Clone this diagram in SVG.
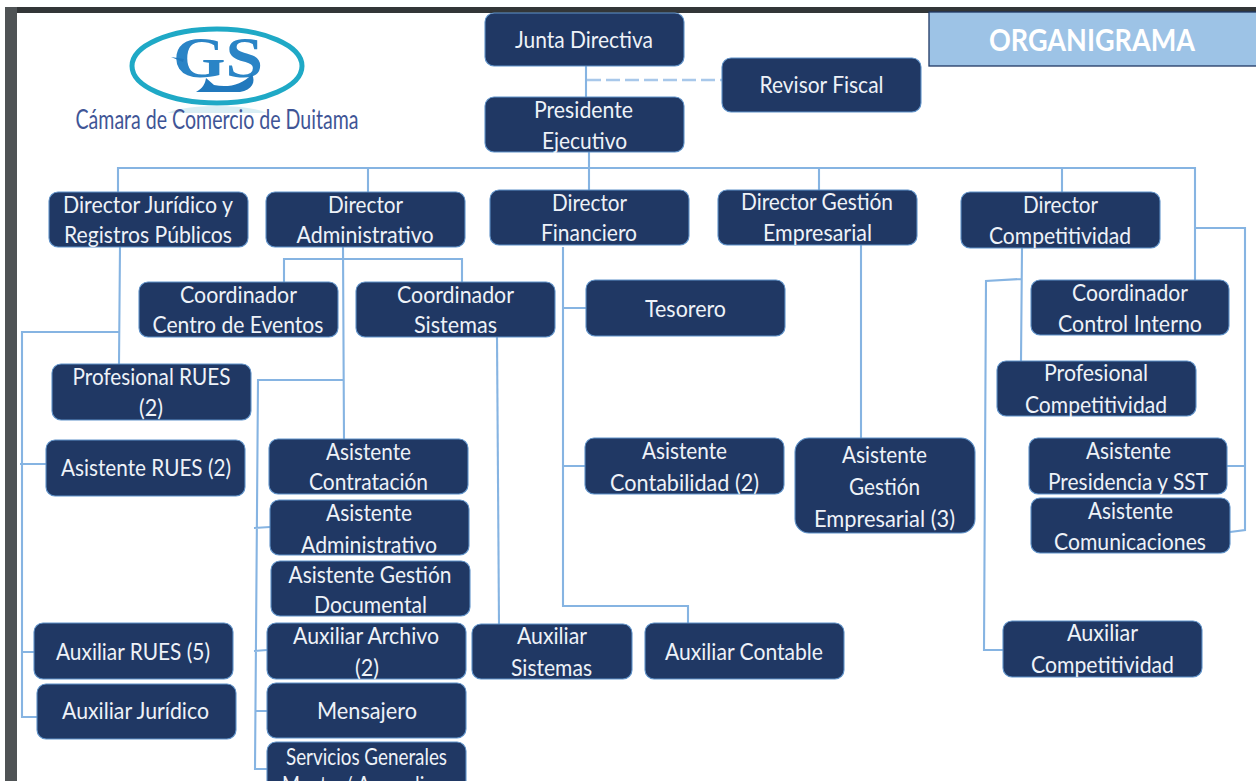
<svg xmlns="http://www.w3.org/2000/svg" width="1256" height="781" viewBox="0 0 1256 781">
<style>
.n{fill:#203864;stroke:#5f92c9;stroke-width:1.1}
.t{font-family:"Lato","Open Sans",sans-serif;font-size:23px;fill:#eef2f8;text-anchor:middle}
.c{fill:none;stroke:#86b4e2;stroke-width:2.1}
.d{fill:none;stroke:#a8c8ea;stroke-width:2.5;stroke-dasharray:14 5}
.l{font-family:"Liberation Serif",serif;font-weight:bold;text-anchor:middle}
</style>
<rect width="1256" height="781" fill="#fff"/>
<rect x="5" y="7" width="1251" height="6" fill="#333638"/>
<rect x="5" y="7" width="12" height="774" fill="#4f5355"/>
<g id="logo">
<ellipse cx="217" cy="116" rx="52" ry="10" fill="#d9eef4"/>
<rect x="160" y="113" width="114" height="18" fill="#fff"/>
<ellipse cx="217" cy="66" rx="85" ry="37" fill="#fff" stroke="#1fa9c6" stroke-width="5"/>
<text class="l" x="218" y="77" font-size="56" fill="#2a84c6" textLength="90" lengthAdjust="spacingAndGlyphs">GS</text>
<path d="M171 57L184 59L183 62ZM196 92C203 88 205 84 206 78L214 85C228 88 242 85 252 74C256 82 252 90 240 92Z" fill="#2179bd"/>
<text x="217" y="129" font-family="Lato,sans-serif" font-size="26" fill="#3f5596" text-anchor="middle" textLength="283" lengthAdjust="spacingAndGlyphs">Cámara de Comercio de Duitama</text>
</g>
<g id="header">
<rect x="929" y="12" width="328" height="54" fill="#9dc3e6" stroke="#1f3864" stroke-width="1.3"/>
<text x="1092" y="51" font-family="Lato,'Open Sans',sans-serif" font-weight="bold" font-size="30" fill="#fff" text-anchor="middle" textLength="206" lengthAdjust="spacingAndGlyphs">ORGANIGRAMA</text>
</g>
<g id="connectors">
<path class="c" d="M586 66V97"/>
<path class="d" d="M587 80H722"/>
<path class="c" d="M589 152V190M118 192V168H1195V280M368 168V192M819 168V190M1062 168V192"/>
<path class="c" d="M1195 228H1245V530L1230 532M1227 466H1245"/>
<path class="c" d="M1022 248L1021 361M1021 279L986 281L984 650H1003"/>
<path class="c" d="M120 247L119 364M119 332H22V717H37M20 464H46M22 652H34"/>
<path class="c" d="M343 247L344 439M284 282V259H462V282M344 380H258L255 769H267M254 528L270 527M254 651L267 650M255 711H267"/>
<path class="c" d="M497 337L499 624"/>
<path class="c" d="M563 247V606H688V623M563 308H586M563 466H585"/>
<path class="c" d="M861 245V438"/>
</g>
<g id="junta"><rect class="n" x="485" y="13" width="199" height="53" rx="9"/><text class="t" x="584" y="48" textLength="138" lengthAdjust="spacingAndGlyphs">Junta Directiva</text></g>
<g id="revisor"><rect class="n" x="722" y="58" width="199" height="54" rx="9"/><text class="t" x="821.500" y="93" textLength="124" lengthAdjust="spacingAndGlyphs">Revisor Fiscal</text></g>
<g id="presidente"><rect class="n" x="485" y="97" width="199" height="55" rx="9"/><text class="t" x="583.500" y="118" textLength="99" lengthAdjust="spacingAndGlyphs">Presidente</text><text class="t" x="584.500" y="149" textLength="85" lengthAdjust="spacingAndGlyphs">Ejecutivo</text></g>
<g id="dir-juridico"><rect class="n" x="49" y="192" width="199" height="55" rx="9"/><text class="t" x="148" y="213" textLength="170" lengthAdjust="spacingAndGlyphs">Director Jurídico y</text><text class="t" x="148" y="243" textLength="168" lengthAdjust="spacingAndGlyphs">Registros Públicos</text></g>
<g id="dir-admin"><rect class="n" x="266" y="192" width="199" height="55" rx="9"/><text class="t" x="365.500" y="213" textLength="75" lengthAdjust="spacingAndGlyphs">Director</text><text class="t" x="365" y="243" textLength="137" lengthAdjust="spacingAndGlyphs">Administrativo</text></g>
<g id="dir-fin"><rect class="n" x="490" y="190" width="199" height="55" rx="9"/><text class="t" x="589.500" y="211" textLength="75" lengthAdjust="spacingAndGlyphs">Director</text><text class="t" x="589" y="241" textLength="96" lengthAdjust="spacingAndGlyphs">Financiero</text></g>
<g id="dir-gestion"><rect class="n" x="718" y="190" width="199" height="55" rx="9"/><text class="t" x="817" y="210" textLength="152" lengthAdjust="spacingAndGlyphs">Director Gestión</text><text class="t" x="817.500" y="241" textLength="109" lengthAdjust="spacingAndGlyphs">Empresarial</text></g>
<g id="dir-comp"><rect class="n" x="961" y="192" width="199" height="56" rx="9"/><text class="t" x="1060.500" y="213" textLength="75" lengthAdjust="spacingAndGlyphs">Director</text><text class="t" x="1060" y="244" textLength="142" lengthAdjust="spacingAndGlyphs">Competitividad</text></g>
<g id="coord-eventos"><rect class="n" x="139" y="282" width="199" height="55" rx="9"/><text class="t" x="238.500" y="303" textLength="117" lengthAdjust="spacingAndGlyphs">Coordinador</text><text class="t" x="238" y="333" textLength="171" lengthAdjust="spacingAndGlyphs">Centro de Eventos</text></g>
<g id="coord-sistemas"><rect class="n" x="356" y="282" width="199" height="55" rx="9"/><text class="t" x="455.500" y="303" textLength="117" lengthAdjust="spacingAndGlyphs">Coordinador</text><text class="t" x="455.500" y="333" textLength="83" lengthAdjust="spacingAndGlyphs">Sistemas</text></g>
<g id="tesorero"><rect class="n" x="586" y="280" width="199" height="56" rx="9"/><text class="t" x="685.500" y="317" textLength="81" lengthAdjust="spacingAndGlyphs">Tesorero</text></g>
<g id="coord-control"><rect class="n" x="1031" y="280" width="198" height="55" rx="9"/><text class="t" x="1130" y="301" textLength="116" lengthAdjust="spacingAndGlyphs">Coordinador</text><text class="t" x="1130" y="332" textLength="144" lengthAdjust="spacingAndGlyphs">Control Interno</text></g>
<g id="prof-rues"><rect class="n" x="52" y="364" width="199" height="56" rx="9"/><text class="t" x="151.500" y="385" textLength="158" lengthAdjust="spacingAndGlyphs">Profesional RUES</text><text class="t" x="151" y="416" textLength="24" lengthAdjust="spacingAndGlyphs">(2)</text></g>
<g id="prof-comp"><rect class="n" x="997" y="361" width="199" height="55" rx="9"/><text class="t" x="1096" y="381" textLength="104" lengthAdjust="spacingAndGlyphs">Profesional</text><text class="t" x="1096" y="413" textLength="142" lengthAdjust="spacingAndGlyphs">Competitividad</text></g>
<g id="asist-rues"><rect class="n" x="46" y="440" width="199" height="56" rx="9"/><text class="t" x="146" y="476" textLength="170" lengthAdjust="spacingAndGlyphs">Asistente RUES (2)</text></g>
<g id="asist-contrat"><rect class="n" x="269" y="439" width="199" height="55" rx="9"/><text class="t" x="368.500" y="460" textLength="85" lengthAdjust="spacingAndGlyphs">Asistente</text><text class="t" x="368.500" y="490" textLength="119" lengthAdjust="spacingAndGlyphs">Contratación</text></g>
<g id="asist-contab"><rect class="n" x="585" y="438" width="199" height="56" rx="9"/><text class="t" x="684.500" y="459" textLength="85" lengthAdjust="spacingAndGlyphs">Asistente</text><text class="t" x="684.500" y="491" textLength="149" lengthAdjust="spacingAndGlyphs">Contabilidad (2)</text></g>
<g id="asist-gestion"><rect class="n" x="795" y="438" width="180" height="95" rx="14"/><text class="t" x="884.500" y="463" textLength="85" lengthAdjust="spacingAndGlyphs">Asistente</text><text class="t" x="884.500" y="495" textLength="71" lengthAdjust="spacingAndGlyphs">Gestión</text><text class="t" x="884.500" y="527" textLength="141" lengthAdjust="spacingAndGlyphs">Empresarial (3)</text></g>
<g id="asist-presid"><rect class="n" x="1029" y="438" width="198" height="56" rx="9"/><text class="t" x="1128.500" y="459" textLength="85" lengthAdjust="spacingAndGlyphs">Asistente</text><text class="t" x="1128" y="490" textLength="160" lengthAdjust="spacingAndGlyphs">Presidencia y SST</text></g>
<g id="asist-com"><rect class="n" x="1031" y="498" width="199" height="55" rx="9"/><text class="t" x="1130.500" y="519" textLength="85" lengthAdjust="spacingAndGlyphs">Asistente</text><text class="t" x="1130" y="550" textLength="152" lengthAdjust="spacingAndGlyphs">Comunicaciones</text></g>
<g id="asist-admin"><rect class="n" x="270" y="500" width="199" height="55" rx="9"/><text class="t" x="369" y="521" textLength="86" lengthAdjust="spacingAndGlyphs">Asistente</text><text class="t" x="369" y="553" textLength="136" lengthAdjust="spacingAndGlyphs">Administrativo</text></g>
<g id="asist-doc"><rect class="n" x="271" y="561" width="199" height="55" rx="9"/><text class="t" x="370" y="583" textLength="163" lengthAdjust="spacingAndGlyphs">Asistente Gestión</text><text class="t" x="370.500" y="613" textLength="113" lengthAdjust="spacingAndGlyphs">Documental</text></g>
<g id="aux-archivo"><rect class="n" x="267" y="623" width="199" height="56" rx="9"/><text class="t" x="366" y="644" textLength="146" lengthAdjust="spacingAndGlyphs">Auxiliar Archivo</text><text class="t" x="367" y="676" textLength="24" lengthAdjust="spacingAndGlyphs">(2)</text></g>
<g id="aux-rues"><rect class="n" x="34" y="623" width="199" height="56" rx="9"/><text class="t" x="133" y="660" textLength="154" lengthAdjust="spacingAndGlyphs">Auxiliar RUES (5)</text></g>
<g id="aux-sistemas"><rect class="n" x="472" y="624" width="160" height="55" rx="9"/><text class="t" x="552" y="644" textLength="70" lengthAdjust="spacingAndGlyphs">Auxiliar</text><text class="t" x="551.500" y="676" textLength="81" lengthAdjust="spacingAndGlyphs">Sistemas</text></g>
<g id="aux-contable"><rect class="n" x="645" y="623" width="199" height="56" rx="9"/><text class="t" x="744" y="660" textLength="158" lengthAdjust="spacingAndGlyphs">Auxiliar Contable</text></g>
<g id="aux-comp"><rect class="n" x="1003" y="621" width="199" height="56" rx="9"/><text class="t" x="1102.500" y="641" textLength="71" lengthAdjust="spacingAndGlyphs">Auxiliar</text><text class="t" x="1102.500" y="673" textLength="143" lengthAdjust="spacingAndGlyphs">Competitividad</text></g>
<g id="aux-juridico"><rect class="n" x="37" y="684" width="199" height="55" rx="9"/><text class="t" x="135.500" y="719" textLength="147" lengthAdjust="spacingAndGlyphs">Auxiliar Jurídico</text></g>
<g id="mensajero"><rect class="n" x="267" y="683" width="199" height="55" rx="9"/><text class="t" x="367" y="719" textLength="100" lengthAdjust="spacingAndGlyphs">Mensajero</text></g>
<g id="servicios"><rect class="n" x="267" y="742" width="199" height="70" rx="9"/><text class="t" x="366.500" y="765" font-size="21" textLength="161" lengthAdjust="spacingAndGlyphs">Servicios Generales</text><text class="t" x="367" y="793" font-size="21" textLength="170" lengthAdjust="spacingAndGlyphs">Mantor/ Aprendices</text></g>
</svg>
